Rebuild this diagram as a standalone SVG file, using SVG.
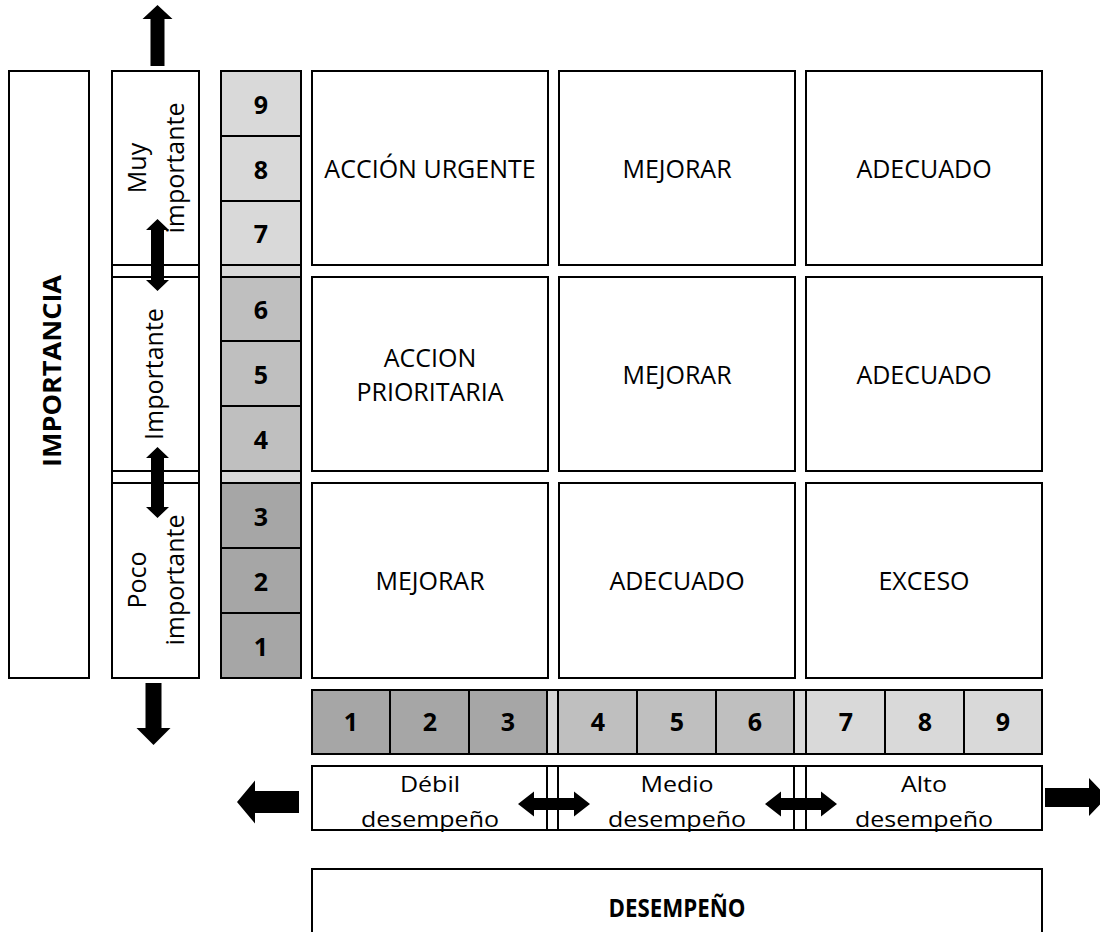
<svg xmlns="http://www.w3.org/2000/svg" width="1100" height="932" viewBox="0 0 1100 932">
<style>
.box{fill:#fff;stroke:#000;stroke-width:2}
.ln{stroke:#000;stroke-width:2}
.c1{fill:#d9d9d9}
.c2{fill:#bfbfbf}
.c3{fill:#a6a6a6}
.t{font-family:"Open Sans","Liberation Sans",sans-serif;font-size:25px;fill:#000;text-anchor:middle}
.b{font-weight:bold}
.arrow{fill:#000;stroke:none}
</style>
<rect width="1100" height="932" fill="#fff"/>

<g id="importancia">
<rect class="box" x="9" y="71" width="80" height="607"/>
<text class="t b" transform="translate(61,371) rotate(-90)" font-size="28" textLength="192" lengthAdjust="spacingAndGlyphs">IMPORTANCIA</text>
</g>

<g id="importance-levels">
<rect class="box" x="112" y="71" width="87" height="607"/>
<line class="ln" x1="112" y1="265" x2="199" y2="265"/>
<line class="ln" x1="112" y1="277" x2="199" y2="277"/>
<line class="ln" x1="112" y1="471" x2="199" y2="471"/>
<line class="ln" x1="112" y1="483" x2="199" y2="483"/>
<text class="t" transform="translate(146,168) rotate(-90)">Muy</text>
<text class="t" transform="translate(184,168) rotate(-90)">importante</text>
<text class="t" transform="translate(163,374) rotate(-90)">Importante</text>
<text class="t" transform="translate(146,580) rotate(-90)">Poco</text>
<text class="t" transform="translate(184,580) rotate(-90)">importante</text>
</g>

<g id="importance-scale">
<rect class="c1" x="221" y="71" width="80" height="206"/>
<rect class="c2" x="221" y="277" width="80" height="194"/>
<rect class="c1" x="221" y="471" width="80" height="12"/>
<rect class="c3" x="221" y="483" width="80" height="195"/>
<rect x="221" y="71" width="80" height="607" fill="none" stroke="#000" stroke-width="2"/>
<line class="ln" x1="221" y1="136" x2="301" y2="136"/>
<line class="ln" x1="221" y1="201" x2="301" y2="201"/>
<line class="ln" x1="221" y1="265" x2="301" y2="265"/>
<line class="ln" x1="221" y1="277" x2="301" y2="277"/>
<line class="ln" x1="221" y1="341" x2="301" y2="341"/>
<line class="ln" x1="221" y1="406" x2="301" y2="406"/>
<line class="ln" x1="221" y1="471" x2="301" y2="471"/>
<line class="ln" x1="221" y1="483" x2="301" y2="483"/>
<line class="ln" x1="221" y1="548" x2="301" y2="548"/>
<line class="ln" x1="221" y1="613" x2="301" y2="613"/>
<text class="t b" x="261" y="114">9</text>
<text class="t b" x="261" y="179">8</text>
<text class="t b" x="261" y="243">7</text>
<text class="t b" x="261" y="319">6</text>
<text class="t b" x="261" y="384">5</text>
<text class="t b" x="261" y="449">4</text>
<text class="t b" x="261" y="526">3</text>
<text class="t b" x="261" y="591">2</text>
<text class="t b" x="261" y="656">1</text>
</g>

<g id="cell-r1c1"><rect class="box" x="312" y="71" width="236" height="194"/><text class="t" x="430" y="178">ACCIÓN URGENTE</text></g>
<g id="cell-r1c2"><rect class="box" x="559" y="71" width="236" height="194"/><text class="t" x="677" y="178">MEJORAR</text></g>
<g id="cell-r1c3"><rect class="box" x="806" y="71" width="236" height="194"/><text class="t" x="924" y="178">ADECUADO</text></g>
<g id="cell-r2c1"><rect class="box" x="312" y="277" width="236" height="194"/><text class="t" x="430" y="367">ACCION</text><text class="t" x="430" y="401">PRIORITARIA</text></g>
<g id="cell-r2c2"><rect class="box" x="559" y="277" width="236" height="194"/><text class="t" x="677" y="384">MEJORAR</text></g>
<g id="cell-r2c3"><rect class="box" x="806" y="277" width="236" height="194"/><text class="t" x="924" y="384">ADECUADO</text></g>
<g id="cell-r3c1"><rect class="box" x="312" y="483" width="236" height="195"/><text class="t" x="430" y="590">MEJORAR</text></g>
<g id="cell-r3c2"><rect class="box" x="559" y="483" width="236" height="195"/><text class="t" x="677" y="590">ADECUADO</text></g>
<g id="cell-r3c3"><rect class="box" x="806" y="483" width="236" height="195"/><text class="t" x="924" y="590">EXCESO</text></g>

<g id="performance-scale">
<rect class="c3" x="312" y="690" width="235" height="64"/>
<rect class="c1" x="547" y="690" width="11" height="64"/>
<rect class="c2" x="558" y="690" width="236" height="64"/>
<rect class="c1" x="794" y="690" width="248" height="64"/>
<rect x="312" y="690" width="730" height="64" fill="none" stroke="#000" stroke-width="2"/>
<line class="ln" x1="390" y1="690" x2="390" y2="754"/>
<line class="ln" x1="469" y1="690" x2="469" y2="754"/>
<line class="ln" x1="547" y1="690" x2="547" y2="754"/>
<line class="ln" x1="558" y1="690" x2="558" y2="754"/>
<line class="ln" x1="637" y1="690" x2="637" y2="754"/>
<line class="ln" x1="716" y1="690" x2="716" y2="754"/>
<line class="ln" x1="794" y1="690" x2="794" y2="754"/>
<line class="ln" x1="806" y1="690" x2="806" y2="754"/>
<line class="ln" x1="885" y1="690" x2="885" y2="754"/>
<line class="ln" x1="964" y1="690" x2="964" y2="754"/>
<text class="t b" x="351" y="731">1</text>
<text class="t b" x="430" y="731">2</text>
<text class="t b" x="508" y="731">3</text>
<text class="t b" x="598" y="731">4</text>
<text class="t b" x="677" y="731">5</text>
<text class="t b" x="755" y="731">6</text>
<text class="t b" x="846" y="731">7</text>
<text class="t b" x="925" y="731">8</text>
<text class="t b" x="1003" y="731">9</text>
</g>

<g id="performance-levels">
<rect class="box" x="312" y="766" width="730" height="64"/>
<line class="ln" x1="547" y1="766" x2="547" y2="830"/>
<line class="ln" x1="558" y1="766" x2="558" y2="830"/>
<line class="ln" x1="794" y1="766" x2="794" y2="830"/>
<line class="ln" x1="806" y1="766" x2="806" y2="830"/>
<g transform="translate(0,792) scale(1,0.9)"><text class="t" x="430" y="0">Débil</text><text class="t" x="677" y="0">Medio</text><text class="t" x="924" y="0">Alto</text></g>
<g transform="translate(0,827) scale(1,0.9)"><text class="t" x="430" y="0">desempeño</text><text class="t" x="677" y="0">desempeño</text><text class="t" x="924" y="0">desempeño</text></g>
</g>

<g id="desempeno">
<rect class="box" x="312" y="869" width="730" height="80"/>
<text class="t b" x="677" y="917" font-size="28" textLength="137" lengthAdjust="spacingAndGlyphs">DESEMPEÑO</text>
</g>

<g id="connectors">
<path class="arrow" d="M157.5,5 L172.5,19 L164.5,19 L164.5,66 L150.5,66 L150.5,19 L142.5,19 Z"/>
<path class="arrow" d="M157.5,219 L169,230 L164,230 L164,280 L169,280 L157.5,291 L146,280 L151,280 L151,230 L146,230 Z"/>
<path class="arrow" d="M157.5,447 L169,458 L164,458 L164,507 L169,507 L157.5,518 L146,507 L151,507 L151,458 L146,458 Z"/>
<path class="arrow" d="M145.5,683 L161.5,683 L161.5,728 L170.5,728 L153.5,745 L136.5,728 L145.5,728 Z"/>
<path class="arrow" d="M237,802 L255,780.5 L255,791 L299,791 L299,813 L255,813 L255,823.5 Z"/>
<path class="arrow" d="M1107,797 L1089,778 L1089,788 L1045,788 L1045,807 L1089,807 L1089,816 Z"/>
<path class="arrow" d="M518,804 L534,791.5 L534,798 L574,798 L574,791.5 L590,804 L574,816.5 L574,810 L534,810 L534,816.5 Z"/>
<path class="arrow" d="M765,804 L781,791.5 L781,798 L821,798 L821,791.5 L837,804 L821,816.5 L821,810 L781,810 L781,816.5 Z"/>
</g>
</svg>
